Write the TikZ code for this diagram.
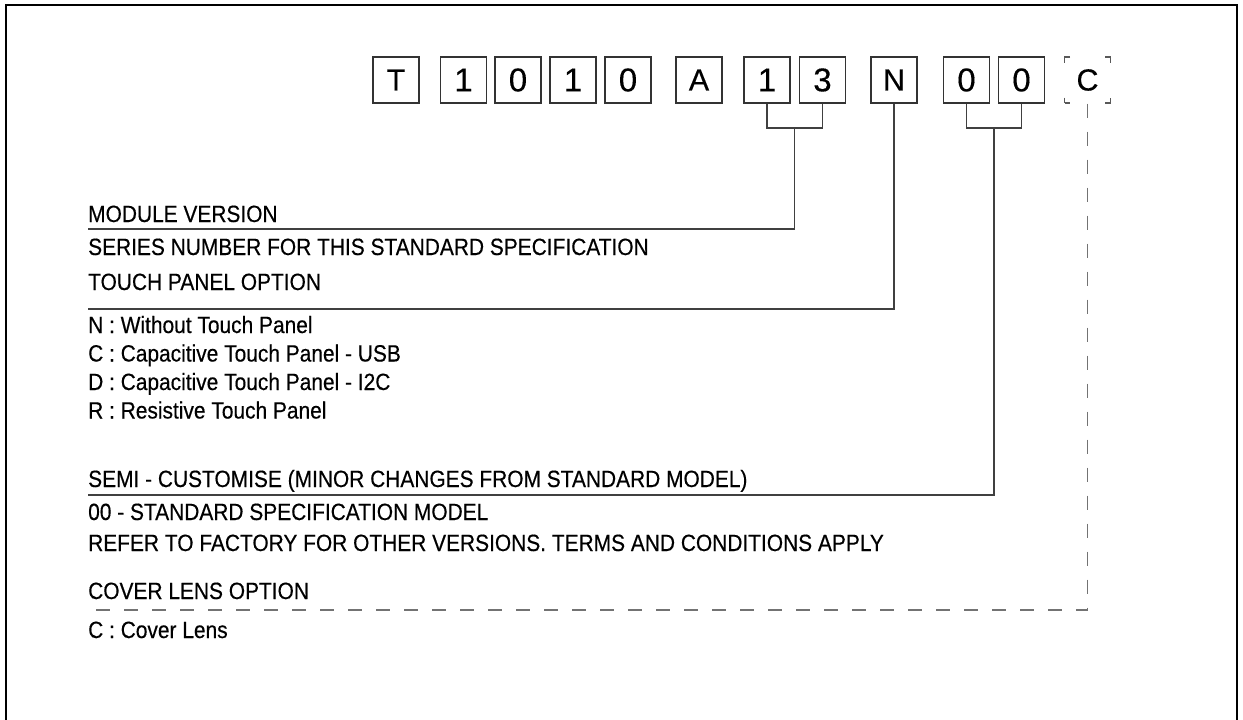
\documentclass[tikz,border=0pt]{standalone}
\usepackage{fontspec}
\setmainfont{Liberation Sans}[FakeStretch=0.89,FakeBold=0.4]
\newfontfamily\boxfont{Liberation Sans}[FakeBold=0.3]
\begin{document}
\begin{tikzpicture}[x=1pt,y=-1pt,
  digit/.style={draw=black!80,line width=1.1pt,minimum width=46pt,minimum height=46pt,inner sep=0pt,font=\boxfont\fontsize{33}{33}\selectfont},
  letter/.style={digit,font=\boxfont\fontsize{30.5}{30.5}\selectfont},
  dashbox/.style={letter,draw=black!65,dash pattern=on 11pt off 35pt,dash phase=5.5pt},
  lbl/.style={anchor=base west,inner sep=0pt,font=\fontsize{23.5}{24}\selectfont},
  lead/.style={draw=black!75,line width=1.2pt},
  dlead/.style={draw=black!55,line width=1.4pt,dash pattern=on 14pt off 14pt}]
\useasboundingbox (0,0) rectangle (1243,720);
\draw[line width=2.5pt] (6,725) -- (6,5) -- (1237,5) -- (1237,725);
% code boxes
\node[letter] (T) at (396,80) {T};
\node[digit] (d1) at (463.5,80) {1};
\node[digit] (d2) at (518,80) {0};
\node[digit] (d3) at (573,80) {1};
\node[digit] (d4) at (628,80) {0};
\node[letter] (A) at (699,80) {A};
\node[digit] (e1) at (767,80) {1};
\node[digit] (e2) at (822.5,80) {3};
\node[letter] (N) at (894,80) {N};
\node[digit] (f1) at (966.5,80) {0};
\node[digit] (f2) at (1021.5,80) {0};
\node[dashbox] (C) at (1087.5,80) {C};
% labels
\node[lbl] (mv) at (88,222) {MODULE VERSION};
\node[lbl] (sn) at (88,255) {SERIES NUMBER FOR THIS STANDARD SPECIFICATION};
\node[lbl] (tp) at (88,290) {TOUCH PANEL OPTION};
\node[lbl] (tpn) at (88,333) {N : Without Touch Panel};
\node[lbl] (tpc) at (88,361.5) {C : Capacitive Touch Panel - USB};
\node[lbl] (tpd) at (88,390) {D : Capacitive Touch Panel - I2C};
\node[lbl] (tpr) at (88,418.5) {R : Resistive Touch Panel};
\node[lbl] (sc) at (88,487) {SEMI - CUSTOMISE (MINOR CHANGES FROM STANDARD MODEL)};
\node[lbl] (ss) at (88,520) {00 - STANDARD SPECIFICATION MODEL};
\node[lbl] (rf) at (88,551) {REFER TO FACTORY FOR OTHER VERSIONS. TERMS AND CONDITIONS APPLY};
\node[lbl] (cl) at (88,599) {COVER LENS OPTION};
\node[lbl] (clc) at (88,638) {C : Cover Lens};
% connector coordinates
\coordinate (j1) at (794.75,128);
\coordinate (j2) at (994,128);
\coordinate (l1) at (88,229);
\coordinate (l2) at (88,309);
\coordinate (l3) at (88,495);
\coordinate (l4) at (88,610);
% connectors
\draw[lead] (e1.south) |- (j1) -| (e2.south);
\draw[lead] (j1) |- (l1);
\draw[lead] (N.south) |- (l2);
\draw[lead] (f1.south) |- (j2) -| (f2.south);
\draw[lead] (j2) |- (l3);
\draw[dlead] (C.south) |- (l4);
\end{tikzpicture}
\end{document}
